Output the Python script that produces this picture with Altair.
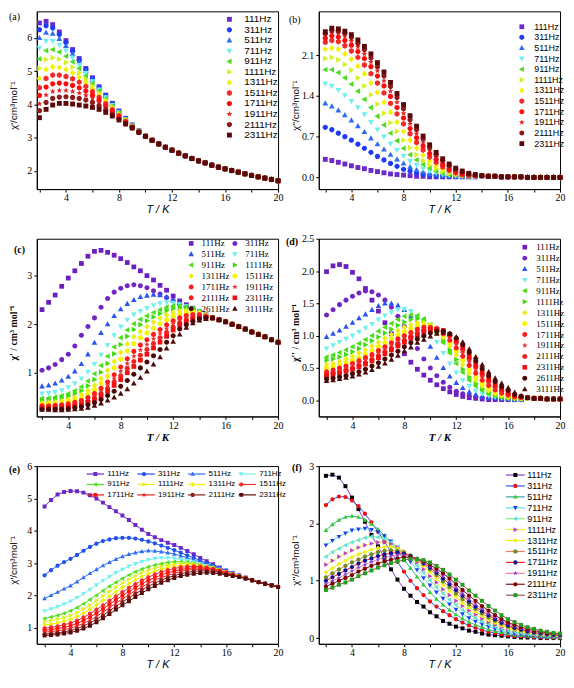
import math
import altair as alt
import pandas as pd

# ---------------- shared x grid (K) ----------------
T = [2.0, 2.5, 3.0, 3.5, 4.0, 4.5, 5.0, 5.5, 6.0, 6.5, 7.0, 7.5, 8.0, 8.5, 9.0,
     9.5, 10.0, 10.5, 11.0, 11.5, 12.0, 12.5, 13.0, 13.5, 14.0, 14.5, 15.0, 15.5,
     16.0, 16.5, 17.0, 17.5, 18.0, 18.5, 19.0, 19.5, 20.0]

FREQ12 = ["111Hz", "311Hz", "511Hz", "711Hz", "911Hz", "1111Hz", "1311Hz",
          "1511Hz", "1711Hz", "1911Hz", "2111Hz", "2311Hz"]
FREQ14 = FREQ12 + ["2611Hz", "3111Hz"]

# ---------------- (a) chi' ----------------
a_tail = [3.04, 2.92, 2.81, 2.71, 2.62, 2.53, 2.45, 2.37, 2.30, 2.24, 2.17, 2.11,
          2.06, 2.01, 1.96, 1.91, 1.86, 1.82, 1.78, 1.74, 1.70]
a_111 = [6.45, 6.50, 6.40, 6.18, 5.92, 5.65, 5.38, 5.08, 4.80, 4.53, 4.28, 4.03, 3.80, 3.58, 3.38, 3.20] + a_tail
a_311 = [6.25, 6.37, 6.30, 6.10, 5.86, 5.60, 5.33, 5.05, 4.78, 4.51, 4.26, 4.02, 3.79, 3.57, 3.37, 3.20] + a_tail
a_511 = [6.00, 6.16, 6.13, 5.97, 5.76, 5.52, 5.27, 5.00, 4.74, 4.48, 4.24, 4.00, 3.78, 3.56, 3.37, 3.19] + a_tail
a_711 = [5.70, 5.90, 5.90, 5.79, 5.62, 5.41, 5.18, 4.94, 4.69, 4.44, 4.21, 3.98, 3.76, 3.55, 3.36, 3.19] + a_tail
a_911 = [5.37, 5.62, 5.65, 5.58, 5.45, 5.28, 5.08, 4.86, 4.63, 4.40, 4.17, 3.95, 3.74, 3.54, 3.35, 3.19] + a_tail
a_1111 = [5.08, 5.35, 5.40, 5.36, 5.26, 5.12, 4.95, 4.76, 4.55, 4.34, 4.13, 3.92, 3.72, 3.53, 3.34, 3.18] + a_tail
a_1311 = [4.78, 5.05, 5.13, 5.11, 5.05, 4.95, 4.82, 4.66, 4.47, 4.28, 4.08, 3.88, 3.69, 3.51, 3.33, 3.18] + a_tail
a_1511 = [4.50, 4.78, 4.88, 4.88, 4.84, 4.77, 4.67, 4.54, 4.38, 4.21, 4.02, 3.84, 3.66, 3.49, 3.32, 3.17] + a_tail
a_1711 = [4.27, 4.52, 4.62, 4.64, 4.62, 4.57, 4.50, 4.40, 4.27, 4.12, 3.95, 3.78, 3.62, 3.46, 3.31, 3.17] + a_tail
a_1911 = [4.02, 4.28, 4.39, 4.42, 4.42, 4.39, 4.34, 4.27, 4.18, 4.06, 3.91, 3.75, 3.59, 3.44, 3.30, 3.16] + a_tail
a_2111 = [3.81, 4.06, 4.18, 4.22, 4.23, 4.21, 4.18, 4.13, 4.06, 3.96, 3.84, 3.70, 3.56, 3.42, 3.29, 3.16] + a_tail
a_2311 = [3.60, 3.85, 3.98, 4.03, 4.03, 4.01, 3.98, 3.95, 3.91, 3.85, 3.76, 3.65, 3.53, 3.41, 3.29, 3.16] + a_tail

# ---------------- (b) chi'' ----------------
b_tail = [0.03, 0.02, 0.02, 0.01, 0.01, 0.01, 0.01, 0.0, 0.0, 0.0, 0.0, 0.0, 0.0]
b_111 = [0.31, 0.29, 0.26, 0.23, 0.20, 0.17, 0.15, 0.12, 0.10, 0.08, 0.06, 0.05, 0.04, 0.03, 0.02, 0.02, 0.01, 0.01, 0.01, 0.01, 0.01, 0.01, 0.01, 0.01] + b_tail
b_311 = [0.86, 0.82, 0.76, 0.70, 0.64, 0.57, 0.50, 0.43, 0.36, 0.30, 0.24, 0.19, 0.14, 0.11, 0.08, 0.06, 0.04, 0.03, 0.02, 0.02, 0.02, 0.02, 0.02, 0.02] + b_tail
b_511 = [1.27, 1.22, 1.15, 1.07, 0.98, 0.88, 0.78, 0.67, 0.57, 0.48, 0.39, 0.31, 0.24, 0.18, 0.13, 0.09, 0.06, 0.05, 0.03, 0.03, 0.02, 0.02, 0.02, 0.02] + b_tail
b_711 = [1.61, 1.57, 1.50, 1.41, 1.31, 1.20, 1.08, 0.95, 0.82, 0.70, 0.58, 0.47, 0.37, 0.28, 0.21, 0.15, 0.11, 0.08, 0.05, 0.04, 0.03, 0.02, 0.02, 0.02] + b_tail
b_911 = [1.85, 1.85, 1.80, 1.71, 1.60, 1.48, 1.34, 1.20, 1.05, 0.90, 0.76, 0.63, 0.50, 0.39, 0.30, 0.22, 0.16, 0.11, 0.07, 0.05, 0.04, 0.03, 0.03, 0.02] + b_tail
b_1111 = [2.04, 2.06, 2.02, 1.94, 1.84, 1.71, 1.57, 1.42, 1.26, 1.10, 0.94, 0.79, 0.64, 0.51, 0.39, 0.29, 0.21, 0.15, 0.10, 0.07, 0.05, 0.04, 0.03, 0.02] + b_tail
b_1311 = [2.20, 2.22, 2.20, 2.12, 2.03, 1.91, 1.78, 1.62, 1.46, 1.29, 1.12, 0.95, 0.79, 0.64, 0.50, 0.38, 0.28, 0.20, 0.14, 0.10, 0.06, 0.04, 0.03, 0.03] + b_tail
b_1511 = [2.32, 2.35, 2.33, 2.26, 2.17, 2.06, 1.93, 1.78, 1.62, 1.45, 1.27, 1.09, 0.92, 0.75, 0.60, 0.47, 0.35, 0.26, 0.18, 0.12, 0.08, 0.05, 0.04, 0.03] + b_tail
b_1711 = [2.39, 2.43, 2.41, 2.35, 2.27, 2.16, 2.04, 1.90, 1.74, 1.57, 1.39, 1.20, 1.02, 0.84, 0.68, 0.54, 0.41, 0.31, 0.22, 0.15, 0.10, 0.06, 0.04, 0.03] + b_tail
b_1911 = [2.44, 2.48, 2.47, 2.42, 2.34, 2.24, 2.12, 1.98, 1.83, 1.66, 1.48, 1.29, 1.10, 0.92, 0.75, 0.60, 0.46, 0.35, 0.25, 0.18, 0.12, 0.08, 0.05, 0.04] + b_tail
b_2111 = [2.47, 2.52, 2.51, 2.47, 2.40, 2.30, 2.19, 2.05, 1.90, 1.74, 1.56, 1.37, 1.18, 0.99, 0.82, 0.66, 0.51, 0.39, 0.29, 0.20, 0.14, 0.09, 0.06, 0.04] + b_tail
b_2311 = [2.50, 2.56, 2.55, 2.51, 2.45, 2.36, 2.25, 2.12, 1.97, 1.81, 1.63, 1.44, 1.25, 1.06, 0.88, 0.71, 0.56, 0.43, 0.32, 0.23, 0.16, 0.11, 0.07, 0.05] + b_tail

# ---------------- (c) chi' ----------------
c_tail = [2.13, 2.09, 2.05, 2.00, 1.95, 1.90, 1.84, 1.79, 1.74, 1.68, 1.63]
c_111 = [2.30, 2.45, 2.60, 2.78, 2.95, 3.10, 3.25, 3.40, 3.50, 3.52, 3.48, 3.42, 3.35, 3.27, 3.18, 3.10, 3.00, 2.91, 2.80, 2.70, 2.58, 2.48, 2.40, 2.33, 2.26, 2.19] + c_tail
c_311 = [1.05, 1.10, 1.17, 1.27, 1.38, 1.55, 1.77, 1.95, 2.13, 2.35, 2.53, 2.66, 2.74, 2.79, 2.81, 2.79, 2.75, 2.69, 2.62, 2.55, 2.48, 2.42, 2.37, 2.32, 2.26, 2.19] + c_tail
c_511 = [0.72, 0.74, 0.78, 0.84, 0.92, 1.03, 1.18, 1.38, 1.62, 1.82, 2.00, 2.17, 2.31, 2.42, 2.50, 2.56, 2.59, 2.61, 2.60, 2.56, 2.50, 2.44, 2.38, 2.32, 2.26, 2.19] + c_tail
c_711 = [0.57, 0.58, 0.60, 0.64, 0.70, 0.78, 0.88, 1.02, 1.18, 1.37, 1.57, 1.77, 1.95, 2.09, 2.20, 2.27, 2.33, 2.39, 2.43, 2.45, 2.44, 2.41, 2.37, 2.32, 2.26, 2.19] + c_tail
c_911 = [0.47, 0.48, 0.50, 0.53, 0.57, 0.63, 0.71, 0.83, 0.98, 1.15, 1.34, 1.53, 1.72, 1.88, 2.01, 2.10, 2.17, 2.24, 2.30, 2.35, 2.38, 2.38, 2.36, 2.32, 2.26, 2.19] + c_tail
c_1111 = [0.44, 0.44, 0.46, 0.48, 0.52, 0.57, 0.63, 0.73, 0.86, 1.01, 1.19, 1.39, 1.58, 1.75, 1.89, 1.99, 2.07, 2.15, 2.22, 2.28, 2.32, 2.33, 2.33, 2.30, 2.25, 2.19] + c_tail
c_1311 = [0.38, 0.39, 0.40, 0.42, 0.45, 0.49, 0.55, 0.63, 0.74, 0.88, 1.05, 1.23, 1.42, 1.59, 1.74, 1.85, 1.95, 2.04, 2.12, 2.19, 2.24, 2.27, 2.28, 2.27, 2.24, 2.19] + c_tail
c_1511 = [0.35, 0.35, 0.36, 0.38, 0.41, 0.44, 0.49, 0.56, 0.65, 0.78, 0.93, 1.10, 1.28, 1.45, 1.60, 1.72, 1.82, 1.92, 2.01, 2.09, 2.16, 2.21, 2.24, 2.24, 2.22, 2.18] + c_tail
c_1711 = [0.32, 0.32, 0.33, 0.34, 0.36, 0.39, 0.43, 0.49, 0.57, 0.68, 0.81, 0.96, 1.12, 1.29, 1.44, 1.57, 1.68, 1.79, 1.89, 1.99, 2.07, 2.13, 2.18, 2.20, 2.20, 2.17] + c_tail
c_1911 = [0.30, 0.30, 0.31, 0.32, 0.33, 0.36, 0.40, 0.45, 0.52, 0.62, 0.74, 0.88, 1.03, 1.19, 1.34, 1.47, 1.58, 1.70, 1.81, 1.91, 2.01, 2.08, 2.13, 2.17, 2.18, 2.16] + c_tail
c_2111 = [0.28, 0.28, 0.29, 0.30, 0.31, 0.33, 0.37, 0.42, 0.48, 0.57, 0.68, 0.81, 0.94, 1.09, 1.23, 1.36, 1.48, 1.60, 1.72, 1.83, 1.94, 2.03, 2.09, 2.14, 2.16, 2.15] + c_tail
c_2311 = [0.27, 0.27, 0.27, 0.28, 0.29, 0.31, 0.34, 0.39, 0.44, 0.52, 0.62, 0.74, 0.86, 1.00, 1.13, 1.26, 1.38, 1.51, 1.63, 1.75, 1.88, 1.98, 2.05, 2.10, 2.13, 2.14] + c_tail
c_2611 = [0.25, 0.25, 0.25, 0.25, 0.26, 0.28, 0.30, 0.34, 0.38, 0.45, 0.53, 0.62, 0.72, 0.84, 0.97, 1.10, 1.22, 1.35, 1.48, 1.63, 1.76, 1.90, 1.99, 2.06, 2.11, 2.13] + c_tail
c_3111 = [0.24, 0.24, 0.23, 0.23, 0.24, 0.25, 0.26, 0.28, 0.32, 0.37, 0.43, 0.49, 0.57, 0.66, 0.78, 0.90, 1.03, 1.17, 1.32, 1.50, 1.64, 1.79, 1.93, 2.02, 2.08, 2.11] + c_tail

# ---------------- (d) chi'' ----------------
d_tail = [0.04, 0.03, 0.03, 0.02, 0.02, 0.02]
d_111 = [1.99, 2.08, 2.10, 2.07, 1.98, 1.88, 1.73, 1.55, 1.38, 1.20, 1.03, 0.87, 0.72, 0.59, 0.48, 0.39, 0.31, 0.24, 0.18, 0.13, 0.09, 0.06, 0.04, 0.03, 0.02, 0.01, 0.01, 0.01, 0.01, 0.01, 0.01] + d_tail
d_311 = [1.32, 1.40, 1.48, 1.55, 1.61, 1.66, 1.69, 1.68, 1.63, 1.55, 1.44, 1.30, 1.14, 0.97, 0.80, 0.64, 0.50, 0.38, 0.28, 0.20, 0.14, 0.10, 0.07, 0.05, 0.04, 0.03, 0.02, 0.02, 0.01, 0.01, 0.01] + d_tail
d_511 = [0.98, 1.03, 1.08, 1.14, 1.20, 1.27, 1.33, 1.40, 1.46, 1.50, 1.50, 1.47, 1.40, 1.30, 1.16, 1.00, 0.83, 0.66, 0.50, 0.37, 0.27, 0.19, 0.13, 0.09, 0.06, 0.04, 0.03, 0.02, 0.02, 0.01, 0.01] + d_tail
d_711 = [0.80, 0.85, 0.90, 0.95, 1.00, 1.06, 1.12, 1.18, 1.25, 1.31, 1.36, 1.40, 1.41, 1.38, 1.30, 1.20, 1.06, 0.90, 0.73, 0.57, 0.43, 0.31, 0.22, 0.15, 0.10, 0.07, 0.05, 0.04, 0.03, 0.02, 0.02] + d_tail
d_911 = [0.67, 0.70, 0.74, 0.78, 0.83, 0.88, 0.94, 1.00, 1.07, 1.13, 1.19, 1.25, 1.30, 1.32, 1.31, 1.26, 1.17, 1.04, 0.89, 0.73, 0.57, 0.43, 0.31, 0.22, 0.15, 0.10, 0.07, 0.05, 0.03, 0.03, 0.02] + d_tail
d_1111 = [0.62, 0.64, 0.67, 0.71, 0.75, 0.80, 0.86, 0.92, 0.98, 1.04, 1.10, 1.16, 1.21, 1.25, 1.26, 1.23, 1.16, 1.06, 0.93, 0.78, 0.63, 0.48, 0.36, 0.26, 0.18, 0.12, 0.08, 0.06, 0.04, 0.03, 0.02] + d_tail
d_1311 = [0.55, 0.57, 0.60, 0.64, 0.68, 0.73, 0.78, 0.84, 0.90, 0.96, 1.02, 1.08, 1.13, 1.17, 1.20, 1.20, 1.16, 1.08, 0.97, 0.84, 0.70, 0.55, 0.42, 0.31, 0.22, 0.15, 0.10, 0.07, 0.05, 0.04, 0.03] + d_tail
d_1511 = [0.50, 0.52, 0.55, 0.58, 0.62, 0.66, 0.71, 0.77, 0.83, 0.89, 0.95, 1.01, 1.06, 1.11, 1.15, 1.17, 1.15, 1.10, 1.00, 0.89, 0.76, 0.62, 0.48, 0.36, 0.26, 0.19, 0.13, 0.09, 0.06, 0.04, 0.03] + d_tail
d_1711 = [0.44, 0.47, 0.50, 0.53, 0.57, 0.61, 0.66, 0.71, 0.77, 0.83, 0.89, 0.95, 1.00, 1.05, 1.10, 1.13, 1.13, 1.10, 1.03, 0.93, 0.81, 0.68, 0.54, 0.42, 0.31, 0.23, 0.16, 0.11, 0.08, 0.05, 0.04] + d_tail
d_1911 = [0.42, 0.44, 0.47, 0.50, 0.54, 0.58, 0.62, 0.67, 0.73, 0.79, 0.85, 0.91, 0.97, 1.02, 1.07, 1.10, 1.12, 1.11, 1.05, 0.97, 0.86, 0.73, 0.59, 0.46, 0.35, 0.26, 0.18, 0.13, 0.09, 0.06, 0.04] + d_tail
d_2111 = [0.40, 0.42, 0.44, 0.47, 0.50, 0.54, 0.58, 0.63, 0.69, 0.75, 0.81, 0.87, 0.93, 0.99, 1.04, 1.08, 1.10, 1.11, 1.07, 1.00, 0.90, 0.78, 0.64, 0.51, 0.39, 0.29, 0.21, 0.15, 0.10, 0.07, 0.05] + d_tail
d_2311 = [0.38, 0.40, 0.42, 0.45, 0.48, 0.52, 0.56, 0.61, 0.66, 0.72, 0.78, 0.84, 0.90, 0.96, 1.01, 1.06, 1.09, 1.10, 1.08, 1.02, 0.93, 0.82, 0.68, 0.55, 0.43, 0.33, 0.24, 0.17, 0.12, 0.08, 0.06] + d_tail
d_2611 = [0.33, 0.34, 0.36, 0.38, 0.41, 0.44, 0.48, 0.53, 0.58, 0.64, 0.70, 0.76, 0.83, 0.89, 0.95, 1.00, 1.04, 1.07, 1.07, 1.03, 0.96, 0.86, 0.74, 0.61, 0.49, 0.38, 0.29, 0.21, 0.15, 0.09, 0.06] + d_tail
d_3111 = [0.30, 0.31, 0.33, 0.35, 0.37, 0.40, 0.43, 0.47, 0.52, 0.57, 0.63, 0.69, 0.76, 0.82, 0.89, 0.94, 0.99, 1.03, 1.05, 1.03, 0.98, 0.90, 0.79, 0.67, 0.55, 0.44, 0.34, 0.26, 0.19, 0.12, 0.07] + d_tail

# ---------------- (e) chi' ----------------
e_tail = [2.47, 2.41, 2.36, 2.31, 2.26]
e_111 = [4.75, 4.95, 5.12, 5.20, 5.23, 5.22, 5.18, 5.10, 5.00, 4.87, 4.73, 4.60, 4.47, 4.33, 4.18, 4.03, 3.90, 3.80, 3.71, 3.63, 3.56, 3.47, 3.37, 3.27, 3.16, 3.06, 2.96, 2.86, 2.77, 2.69, 2.62, 2.55] + e_tail
e_311 = [2.62, 2.78, 2.92, 3.03, 3.13, 3.25, 3.38, 3.50, 3.60, 3.68, 3.73, 3.77, 3.78, 3.78, 3.76, 3.72, 3.67, 3.61, 3.54, 3.47, 3.40, 3.32, 3.24, 3.16, 3.08, 3.00, 2.92, 2.84, 2.76, 2.68, 2.61, 2.54] + e_tail
e_511 = [1.90, 2.00, 2.10, 2.20, 2.30, 2.42, 2.55, 2.68, 2.80, 2.92, 3.02, 3.12, 3.20, 3.27, 3.32, 3.36, 3.38, 3.37, 3.35, 3.32, 3.28, 3.22, 3.16, 3.10, 3.03, 2.96, 2.89, 2.82, 2.74, 2.67, 2.60, 2.54] + e_tail
e_711 = [1.52, 1.58, 1.65, 1.73, 1.82, 1.93, 2.05, 2.18, 2.32, 2.45, 2.58, 2.70, 2.80, 2.90, 2.98, 3.04, 3.10, 3.14, 3.16, 3.16, 3.15, 3.12, 3.08, 3.03, 2.98, 2.92, 2.86, 2.80, 2.73, 2.66, 2.60, 2.54] + e_tail
e_911 = [1.28, 1.33, 1.38, 1.44, 1.52, 1.62, 1.74, 1.87, 2.00, 2.14, 2.28, 2.40, 2.52, 2.63, 2.73, 2.81, 2.88, 2.94, 2.98, 3.02, 3.04, 3.04, 3.02, 2.99, 2.95, 2.90, 2.85, 2.79, 2.72, 2.66, 2.60, 2.54] + e_tail
e_1111 = [1.18, 1.22, 1.26, 1.31, 1.38, 1.47, 1.58, 1.70, 1.84, 1.98, 2.12, 2.25, 2.38, 2.50, 2.60, 2.70, 2.78, 2.85, 2.90, 2.94, 2.97, 2.99, 2.99, 2.97, 2.94, 2.90, 2.85, 2.79, 2.72, 2.66, 2.60, 2.54] + e_tail
e_1311 = [1.08, 1.11, 1.15, 1.20, 1.26, 1.35, 1.45, 1.57, 1.70, 1.84, 1.97, 2.11, 2.24, 2.37, 2.48, 2.58, 2.67, 2.75, 2.81, 2.86, 2.90, 2.93, 2.95, 2.94, 2.92, 2.88, 2.84, 2.78, 2.72, 2.66, 2.60, 2.54] + e_tail
e_1511 = [0.98, 1.01, 1.04, 1.09, 1.14, 1.22, 1.32, 1.43, 1.56, 1.69, 1.83, 1.97, 2.10, 2.23, 2.35, 2.46, 2.56, 2.65, 2.72, 2.78, 2.83, 2.87, 2.89, 2.90, 2.89, 2.86, 2.82, 2.77, 2.71, 2.65, 2.59, 2.53] + e_tail
e_1711 = [0.92, 0.94, 0.97, 1.01, 1.06, 1.13, 1.22, 1.33, 1.45, 1.58, 1.72, 1.86, 1.99, 2.12, 2.24, 2.36, 2.46, 2.55, 2.63, 2.70, 2.75, 2.80, 2.83, 2.85, 2.85, 2.83, 2.80, 2.75, 2.70, 2.64, 2.59, 2.53] + e_tail
e_1911 = [0.86, 0.88, 0.90, 0.94, 0.98, 1.05, 1.13, 1.23, 1.35, 1.48, 1.62, 1.76, 1.89, 2.02, 2.15, 2.26, 2.37, 2.47, 2.55, 2.62, 2.68, 2.74, 2.78, 2.80, 2.81, 2.80, 2.77, 2.73, 2.68, 2.63, 2.58, 2.52] + e_tail
e_2111 = [0.80, 0.82, 0.84, 0.87, 0.91, 0.97, 1.05, 1.15, 1.26, 1.38, 1.52, 1.66, 1.79, 1.92, 2.05, 2.17, 2.28, 2.38, 2.47, 2.55, 2.61, 2.67, 2.71, 2.74, 2.76, 2.76, 2.74, 2.71, 2.66, 2.62, 2.57, 2.52] + e_tail
e_2311 = [0.76, 0.77, 0.79, 0.82, 0.85, 0.90, 0.97, 1.06, 1.17, 1.29, 1.42, 1.56, 1.69, 1.82, 1.95, 2.07, 2.19, 2.29, 2.39, 2.47, 2.54, 2.60, 2.64, 2.67, 2.69, 2.70, 2.69, 2.67, 2.63, 2.60, 2.57, 2.52] + e_tail

# ---------------- (f) chi'' ----------------
f_111 = [2.83, 2.85, 2.80, 2.65, 2.45, 2.25, 2.03, 1.80, 1.60, 1.40, 1.20, 1.02, 0.86, 0.74, 0.63, 0.55, 0.45, 0.38, 0.30, 0.25, 0.20, 0.17, 0.13, 0.11, 0.08, 0.06, 0.05, 0.04, 0.03, 0.02, 0.01, 0.01, 0.01, 0.00, 0.00, 0.00, 0.00]
f_311 = [2.32, 2.42, 2.47, 2.46, 2.40, 2.30, 2.17, 2.02, 1.86, 1.68, 1.50, 1.33, 1.16, 1.00, 0.87, 0.75, 0.64, 0.55, 0.47, 0.40, 0.33, 0.27, 0.22, 0.18, 0.14, 0.11, 0.09, 0.07, 0.05, 0.04, 0.03, 0.03, 0.02, 0.02, 0.01, 0.01, 0.01]
f_511 = [1.88, 1.98, 2.06, 2.11, 2.13, 2.11, 2.06, 1.99, 1.90, 1.79, 1.66, 1.52, 1.37, 1.22, 1.07, 0.93, 0.80, 0.68, 0.58, 0.49, 0.41, 0.34, 0.28, 0.23, 0.19, 0.15, 0.12, 0.10, 0.08, 0.06, 0.05, 0.04, 0.03, 0.03, 0.02, 0.02, 0.01]
f_711 = [1.62, 1.70, 1.77, 1.83, 1.88, 1.90, 1.91, 1.89, 1.85, 1.78, 1.69, 1.58, 1.46, 1.33, 1.19, 1.05, 0.92, 0.80, 0.69, 0.59, 0.50, 0.42, 0.35, 0.29, 0.24, 0.20, 0.16, 0.13, 0.10, 0.08, 0.07, 0.05, 0.04, 0.04, 0.03, 0.03, 0.02]
f_911 = [1.42, 1.50, 1.56, 1.62, 1.67, 1.71, 1.75, 1.77, 1.76, 1.73, 1.67, 1.59, 1.49, 1.38, 1.26, 1.14, 1.01, 0.89, 0.78, 0.67, 0.58, 0.49, 0.42, 0.35, 0.29, 0.24, 0.20, 0.16, 0.13, 0.11, 0.09, 0.07, 0.06, 0.05, 0.04, 0.04, 0.03]
f_1111 = [1.28, 1.35, 1.42, 1.48, 1.53, 1.58, 1.62, 1.65, 1.67, 1.67, 1.64, 1.58, 1.51, 1.42, 1.32, 1.20, 1.08, 0.97, 0.85, 0.75, 0.65, 0.56, 0.48, 0.41, 0.34, 0.28, 0.23, 0.19, 0.16, 0.13, 0.11, 0.09, 0.07, 0.06, 0.05, 0.04, 0.03]
f_1311 = [1.15, 1.22, 1.29, 1.35, 1.41, 1.46, 1.50, 1.54, 1.57, 1.59, 1.59, 1.56, 1.51, 1.44, 1.36, 1.26, 1.15, 1.04, 0.93, 0.82, 0.72, 0.62, 0.54, 0.46, 0.39, 0.32, 0.27, 0.22, 0.18, 0.15, 0.12, 0.10, 0.08, 0.07, 0.06, 0.05, 0.04]
f_1511 = [1.06, 1.13, 1.20, 1.26, 1.32, 1.37, 1.42, 1.46, 1.50, 1.52, 1.53, 1.52, 1.49, 1.44, 1.37, 1.29, 1.20, 1.10, 0.99, 0.89, 0.78, 0.68, 0.59, 0.51, 0.43, 0.36, 0.30, 0.25, 0.20, 0.17, 0.14, 0.11, 0.09, 0.08, 0.06, 0.05, 0.05]
f_1711 = [1.00, 1.06, 1.12, 1.18, 1.24, 1.30, 1.35, 1.39, 1.43, 1.46, 1.48, 1.49, 1.47, 1.43, 1.38, 1.31, 1.23, 1.14, 1.04, 0.94, 0.84, 0.74, 0.64, 0.55, 0.47, 0.40, 0.33, 0.27, 0.22, 0.18, 0.15, 0.12, 0.10, 0.08, 0.07, 0.06, 0.05]
f_1911 = [0.94, 1.00, 1.05, 1.11, 1.17, 1.23, 1.28, 1.33, 1.37, 1.40, 1.43, 1.45, 1.45, 1.42, 1.38, 1.32, 1.25, 1.17, 1.08, 0.98, 0.88, 0.78, 0.68, 0.59, 0.51, 0.43, 0.36, 0.30, 0.25, 0.21, 0.17, 0.14, 0.11, 0.09, 0.08, 0.07, 0.06]
f_2111 = [0.90, 0.95, 1.00, 1.05, 1.10, 1.16, 1.21, 1.26, 1.30, 1.34, 1.37, 1.39, 1.41, 1.41, 1.38, 1.34, 1.28, 1.21, 1.13, 1.04, 0.94, 0.84, 0.74, 0.65, 0.56, 0.48, 0.40, 0.33, 0.27, 0.23, 0.19, 0.16, 0.13, 0.11, 0.09, 0.08, 0.07]
f_2311 = [0.84, 0.88, 0.93, 0.97, 1.02, 1.08, 1.13, 1.18, 1.23, 1.27, 1.31, 1.34, 1.36, 1.38, 1.38, 1.36, 1.32, 1.26, 1.19, 1.11, 1.02, 0.93, 0.83, 0.74, 0.65, 0.56, 0.48, 0.40, 0.33, 0.28, 0.23, 0.19, 0.16, 0.13, 0.11, 0.09, 0.08]

# ---------------- colours ----------------
COL_AB = ["#6B2BC8", "#1F3BF5", "#2E6CF0", "#6FEFEF", "#4FDB1F", "#D7F021",
          "#F2F200", "#F22A2A", "#FF0A0A", "#E52222", "#8E1A1A", "#5C0808"]
COL_CD = ["#6B1FC0", "#7325C4", "#2A55F0", "#70F0F0", "#48E018", "#3CDC0C", "#EDED10",
          "#F5F500", "#FF1A1A", "#F03030", "#F22020", "#F01010", "#4A0505", "#4D0A0A"]
COL_E = ["#6A28C8", "#2050F0", "#3070F0", "#70F0F0", "#50E020", "#E0F020",
         "#F0F000", "#F03030", "#FF1010", "#F02020", "#8A1E1E", "#5A0A0A"]
COL_F_MARK = ["#000000", "#F01010", "#30D030", "#2040F0", "#60E0E0", "#C040C0",
              "#F0F020", "#6B8E23", "#101090", "#8A40E0", "#800000", "#20A020"]
COL_F_LINE = ["#8A40C8", "#3050F0", "#40A0A0", "#60E0E0", "#80F080", "#F0F040",
              "#F0F000", "#F08060", "#F02020", "#F080A0", "#801010", "#A05050"]

# ---------------- marker shapes ----------------
STAR = []
for i in range(10):
    ang = math.radians(-90 + 36 * i)
    rr = 1.0 if i % 2 == 0 else 0.42
    STAR.append((rr * math.cos(ang), rr * math.sin(ang)))

PTS = {
    "square": [(-0.8, -0.8), (0.8, -0.8), (0.8, 0.8), (-0.8, 0.8)],
    "tri_up": [(0, -1), (0.95, 0.7), (-0.95, 0.7)],
    "tri_down": [(0, 1), (0.95, -0.7), (-0.95, -0.7)],
    "tri_left": [(-1, 0), (0.7, -0.95), (0.7, 0.95)],
    "tri_right": [(1, 0), (-0.7, -0.95), (-0.7, 0.95)],
    "diamond": [(0, -1), (0.9, 0), (0, 1), (-0.9, 0)],
    "hexagon": [(0, -0.95), (0.82, -0.47), (0.82, 0.47), (0, 0.95), (-0.82, 0.47), (-0.82, -0.47)],
    "star": STAR,
}


def shape_path(name, k):
    if name == "circle":
        r = 0.85 * k
        return (f"M{-r:.3f},0A{r:.3f},{r:.3f},0,1,1,{r:.3f},0"
                f"A{r:.3f},{r:.3f},0,1,1,{-r:.3f},0Z")
    return "M" + "L".join(f"{x * k:.3f},{y * k:.3f}" for x, y in PTS[name]) + "Z"


SEQ12 = ["square", "circle", "tri_up", "tri_down", "tri_left", "tri_right",
         "diamond", "hexagon", "circle", "star", "circle", "square"]
SEQ14 = SEQ12 + ["circle", "tri_up"]


def long_df(freqs, series):
    rows = []
    for f, vals in zip(freqs, series):
        assert len(vals) == len(T), (f, len(vals))
        for t, v in zip(T, vals):
            rows.append({"T": t, "v": v, "f": f})
    return pd.DataFrame(rows)


df_a = long_df(FREQ12, [a_111, a_311, a_511, a_711, a_911, a_1111, a_1311, a_1511, a_1711, a_1911, a_2111, a_2311])
df_b = long_df(FREQ12, [b_111, b_311, b_511, b_711, b_911, b_1111, b_1311, b_1511, b_1711, b_1911, b_2111, b_2311])
df_c = long_df(FREQ14, [c_111, c_311, c_511, c_711, c_911, c_1111, c_1311, c_1511, c_1711, c_1911, c_2111, c_2311, c_2611, c_3111])
df_d = long_df(FREQ14, [d_111, d_311, d_511, d_711, d_911, d_1111, d_1311, d_1511, d_1711, d_1911, d_2111, d_2311, d_2611, d_3111])
df_e = long_df(FREQ12, [e_111, e_311, e_511, e_711, e_911, e_1111, e_1311, e_1511, e_1711, e_1911, e_2111, e_2311])
df_f = long_df(FREQ12, [f_111, f_311, f_511, f_711, f_911, f_1111, f_1311, f_1511, f_1711, f_1911, f_2111, f_2311])

# ---------------- layout / style ----------------
W, H = 243, 179
XT = [2, 4, 6, 8, 10, 12, 14, 16, 18, 20]
SERIF = "Liberation Serif"
SANS = "Liberation Sans"


def x_enc(dom, serif):
    ax = alt.Axis(values=XT, labelExpr="datum.value % 4 == 0 ? datum.label : ''",
                  title="T / K", titleFont=SERIF if serif else SANS, titleFontSize=11,
                  titleFontStyle="italic", titleFontWeight="bold" if serif else "normal",
                  labelFont=SERIF, labelFontSize=10, tickSize=3, labelPadding=1,
                  titlePadding=1, grid=False, labelFlush=False, labelOverlap=False,
                  domainColor="black", tickColor="black", labelColor="black", titleColor="black")
    return alt.X("T:Q", scale=alt.Scale(domain=dom, nice=False, zero=False), axis=ax)


def y_enc(dom, vals, title, serif, fmt=None):
    kw = dict(values=vals, title=title, titleX=-18, titleY=H / 2 + 5, titleAngle=270,
              titleAlign="center", titleBaseline="bottom",
              titleFont=SERIF if serif else SANS, titleFontSize=10,
              titleFontWeight="bold" if serif else "normal",
              labelFont=SERIF, labelFontSize=10, tickSize=3, labelPadding=2, grid=False,
              labelFlush=False, labelOverlap=False, domainColor="black", tickColor="black",
              labelColor="black", titleColor="black")
    if fmt:
        kw["format"] = fmt
    return alt.Y("v:Q", scale=alt.Scale(domain=dom, nice=False, zero=False), axis=alt.Axis(**kw))


def legend(x, y, font, size, sym, row_pad, lab_off, cols=1, col_pad=0, **kw):
    return alt.Legend(orient="none", legendX=x, legendY=y, title=None, padding=0,
                      labelFont=font, labelFontSize=size, symbolSize=sym, rowPadding=row_pad,
                      labelOffset=lab_off, columns=cols, columnPadding=col_pad,
                      labelColor="black", labelLimit=0, symbolLimit=0, **kw)


def label_layer(text, x, y, bold):
    return alt.Chart(pd.DataFrame({"t": [text]})).mark_text(
        align="left", baseline="middle", font=SERIF, fontSize=10,
        fontWeight="bold" if bold else "normal", color="black").encode(
        text="t:N", x=alt.value(x), y=alt.value(y))


def scatter_panel(df, freqs, colors, seq, xdom, ydom, yvals, ytitle, serif, fmt,
                  leg, size, lab):
    shapes = [shape_path(s, 1.0) for s in seq]
    pts = alt.Chart(df).mark_point(filled=True, opacity=1, size=size).encode(
        x=x_enc(xdom, serif), y=y_enc(ydom, yvals, ytitle, serif, fmt),
        color=alt.Color("f:N", scale=alt.Scale(domain=freqs, range=colors), legend=leg),
        shape=alt.Shape("f:N", scale=alt.Scale(domain=freqs, range=shapes), legend=leg),
    )
    return alt.layer(pts, lab).properties(width=W, height=H)


def line_panel(df, freqs, mcolors, lcolors, seq, k, size, xdom, ydom, yvals, ytitle,
               line_leg, pt_leg, lab, extent=""):
    shapes = [shape_path(s, k) + extent for s in seq]
    line = alt.Chart(df).mark_line(strokeWidth=1).encode(
        x=x_enc(xdom, False), y=y_enc(ydom, yvals, ytitle, False),
        color=alt.Color("f:N", scale=alt.Scale(domain=freqs, range=lcolors), legend=line_leg),
    )
    pts = alt.Chart(df).mark_point(filled=True, opacity=1, size=size).encode(
        x=x_enc(xdom, False), y=y_enc(ydom, yvals, ytitle, False),
        color=alt.Color("f:N", scale=alt.Scale(domain=freqs, range=mcolors), legend=pt_leg),
        shape=alt.Shape("f:N", scale=alt.Scale(domain=freqs, range=shapes), legend=pt_leg),
    )
    return alt.layer(line, pts, lab).resolve_scale(
        color="independent", shape="independent").properties(width=W, height=H)


E_LINE = "M-2.2,0L2.2,0"
E_EXTENT = "M-2.35,0L2.35,0"
F_LINE = "M-1.9,0L1.9,0"

pa = scatter_panel(df_a, FREQ12, COL_AB, SEQ12, [1.8, 20], [1.45, 6.8], [2, 3, 4, 5, 6],
                   "χ'/cm³mol⁻¹", False, None,
                   legend(189, 3, SANS, 10, 38, 0.6, 10), 38,
                   label_layer("(a)", -28, 6, False))
pb = scatter_panel(df_b, FREQ12, COL_AB, SEQ12, [1.5, 20], [-0.2, 2.85], [0.0, 0.7, 1.4, 2.1],
                   "χ''/cm³mol⁻¹", False, ".1f",
                   legend(200, 11, SANS, 9, 36, 0.7, 8), 38,
                   label_layer("(b)", -30, 9, False))
pc = scatter_panel(df_c, FREQ14, COL_CD, SEQ14, [1.6, 20], [0.1, 3.76], [1, 2, 3],
                   "χ' / cm³ mol⁻¹", True, None,
                   legend(151, 0, SERIF, 9, 34, 1.0, 6, cols=2, col_pad=0,
                          direction="horizontal"), 36,
                   label_layer("(c)", -23, 11, True))
pd_ = scatter_panel(df_d, FREQ14, COL_CD, SEQ14, [1.4, 20], [-0.25, 2.5],
                    [0.0, 0.5, 1.0, 1.5, 2.0, 2.5],
                    "χ'' / cm³ mol⁻¹", True, ".1f",
                    legend(203, 4, SERIF, 9, 34, 1.0, 7), 36,
                    label_layer("(d)", -33, 3, True))
pe = line_panel(df_e, FREQ12, COL_E, COL_E, SEQ12, 0.62, 64, [1.4, 20], [0.5, 6.0],
                [1, 2, 3, 4, 5, 6], "χ'/cm³mol⁻¹",
                legend(54, 3, SANS, 8, 64, 1.5, 7, cols=4, col_pad=0, direction="horizontal",
                       symbolType=E_LINE, symbolStrokeWidth=1.2),
                legend(54, 3, SANS, 8, 64, 1.5, 7, cols=4, col_pad=0, direction="horizontal",
                       labelOpacity=0),
                label_layer("(e)", -28, 4, True), extent=E_EXTENT)
pf = line_panel(df_f, FREQ12, COL_F_MARK, COL_F_LINE, SEQ12, 0.5, 100, [1.45, 20],
                [-0.1, 3.0], [0, 1, 2, 3], "χ''/cm³mol⁻¹",
                legend(192, 3, SANS, 9, 100, 0.0, 6, symbolType=F_LINE,
                       symbolStrokeWidth=1.2),
                legend(192, 3, SANS, 9, 100, 0.0, 6, labelOpacity=0),
                label_layer("(f)", -27, 2, True))

chart = alt.concat(pa, pb, pc, pd_, pe, pf, columns=2,
                   spacing={"row": 50, "column": 41}, bounds="flush").resolve_scale(
    color="independent", shape="independent").configure_view(
    stroke="black", strokeWidth=1).properties(padding=0, background="white")

chart.save("out.html", embed_options={"renderer": "svg", "actions": False})
